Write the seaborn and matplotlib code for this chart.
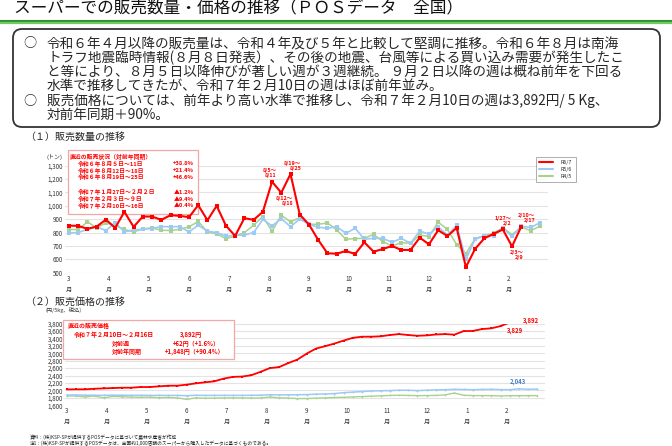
import numpy as np
import pandas as pd
import matplotlib
matplotlib.use('Agg')
import matplotlib.pyplot as plt
import seaborn as sns
from matplotlib.patches import FancyBboxPatch, Rectangle
from matplotlib.lines import Line2D

# ---------------- data ----------------
month_labels = ['3', '4', '5', '6', '7', '8', '9', '10', '11', '12', '1', '2']
series_names = ['R6/7', 'R5/6', 'R4/5']

# (1) weekly sales volume (tons) - R6/7 ends at week of 2/10
qty_r67 = [852, 850, 828, 845, 897, 835, 955, 843, 920, 920,
           895, 930, 925, 915, 1005, 892, 1000, 852, 775, 908,
           895, 955, 1180, 1098, 1238, 935, 860, 745, 645, 642,
           662, 640, 727, 657, 677, 700, 670, 670, 762, 712,
           818, 774, 835, 542, 678, 757, 790, 823, 697, 845]
qty_r56 = [798, 800, 825, 843, 815, 875, 805, 820, 825, 830,
           845, 843, 845, 805, 855, 810, 800, 773, 780, 782,
           800, 898, 850, 904, 844, 902, 862, 840, 832, 845,
           795, 832, 750, 757, 757, 727, 757, 720, 812, 787,
           843, 781, 855, 600, 750, 775, 778, 833, 771, 848,
           838, 872]
qty_r45 = [823, 823, 880, 835, 873, 853, 823, 805, 828, 835,
           818, 815, 825, 843, 883, 805, 790, 755, 773, 800,
           855, 920, 810, 930, 880, 912, 862, 862, 872, 820,
           750, 755, 757, 787, 732, 700, 725, 720, 782, 770,
           878, 823, 710, 642, 755, 778, 795, 837, 785, 841,
           815, 846]
qty_ticks = [500, 600, 700, 800, 900, 1000, 1100, 1200, 1300]

# (2) weekly retail price (yen / 5kg, tax incl.)
price_r67 = [2027, 2030, 2030, 2045, 2055, 2064, 2073, 2073, 2091, 2091,
             2109, 2127, 2127, 2155, 2191, 2218, 2245, 2318, 2364, 2373,
             2409, 2500, 2600, 2627, 2735, 2830, 2990, 3125, 3190, 3260,
             3340, 3415, 3445, 3445, 3455, 3490, 3515, 3490, 3470, 3480,
             3505, 3515, 3500, 3595, 3600, 3650, 3670, 3730, 3829, 3892]
price_r56 = [1875, 1878, 1872, 1870, 1868, 1872, 1870, 1868, 1870, 1866,
             1868, 1865, 1866, 1858, 1870, 1866, 1866, 1867, 1866, 1867,
             1870, 1872, 1885, 1880, 1882, 1885, 1888, 1900, 1905, 1915,
             1940, 1955, 1970, 1985, 1990, 1995, 2005, 2005, 1995, 2005,
             2015, 2020, 2030, 2025, 2020, 2025, 2030, 2022, 2020, 2043,
             2030, 2035]
price_r45 = [1852, 1850, 1825, 1850, 1800, 1840, 1830, 1820, 1815, 1820,
             1805, 1810, 1800, 1760, 1800, 1790, 1795, 1798, 1800, 1800,
             1795, 1795, 1825, 1800, 1795, 1780, 1782, 1792, 1800, 1810,
             1815, 1825, 1835, 1845, 1855, 1865, 1870, 1865, 1860, 1862,
             1865, 1880, 1930, 1870, 1862, 1860, 1860, 1850, 1858, 1858,
             1860, 1860]
price_ticks = [1600, 1800, 2000, 2200, 2400, 2600, 2800, 3000, 3200, 3400, 3600, 3800]

df_qty = pd.DataFrame({'week': np.arange(len(qty_r56)), 'R5/6': qty_r56, 'R4/5': qty_r45})
df_qty['R6/7'] = pd.Series(qty_r67)
df_price = pd.DataFrame({'week': np.arange(len(price_r56)), 'R5/6': price_r56, 'R4/5': price_r45})
df_price['R6/7'] = pd.Series(price_r67)

# ---------------- style ----------------
sns.set_theme(style='white')
plt.rcParams['font.family'] = ['Noto Sans CJK JP', 'DejaVu Sans']

RED = '#ff0000'
BLUE = '#9ccaf4'
GREEN = '#a9d18e'
PINK = '#f2a7a7'

W, H = 672, 446
fig = plt.figure(figsize=(6.72, 4.46), dpi=100)
fig.patch.set_facecolor('white')


def X(px):
    return px / W


def Y(py):
    return 1 - py / H


def add_ax(l, t, r, b):
    return fig.add_axes([X(l), Y(b), (r - l) / W, (b - t) / H])


def ftext(px, py, s, **kw):
    kw.setdefault('va', 'center')
    kw.setdefault('ha', 'left')
    return fig.text(X(px), Y(py), s, **kw)


# ---------------- header ----------------
ftext(14, 9, 'スーパーでの販売数量・価格の推移（ＰＯＳデータ　全国）', fontsize=12.0, color='#111111')
fig.add_artist(Line2D([0, 1], [Y(20.8), Y(20.8)], color='#2f8f3a', lw=1.5))
fig.add_artist(Line2D([0, 1], [Y(23.2), Y(23.2)], color='#72c95e', lw=1.6))

# rounded box (inch coords)
pad = 0.09
bl, br, bt, bb = 13, 660, 29, 127
box = FancyBboxPatch((bl / 100 + pad, (H - bb) / 100 + pad),
                     (br - bl) / 100 - 2 * pad, (bb - bt) / 100 - 2 * pad,
                     boxstyle=f'round,pad={pad},rounding_size={pad}',
                     transform=fig.dpi_scale_trans, facecolor='white',
                     edgecolor='#333333', lw=1.3)
fig.add_artist(box)

lines1 = ['令和６年４月以降の販売量は、令和４年及び５年と比較して堅調に推移。令和６年８月は南海',
          'トラフ地震臨時情報(８月８日発表）、その後の地震、台風等による買い込み需要が発生したこ',
          'と等により、８月５日以降伸びが著しい週が３週継続。 ９月２日以降の週は概ね前年を下回る',
          '水準で推移してきたが、令和７年２月10日の週はほぼ前年並み。']
lines2 = ['販売価格については、前年より高い水準で推移し、令和７年２月10日の週は3,892円/ 5 Kg、',
          '対前年同期＋90%。']
ys1 = [44, 58, 72, 86]
ys2 = [101, 115]
ftext(23, ys1[0], '○', fontsize=9.5)
ftext(23, ys2[0], '○', fontsize=9.5)
for s, yy in zip(lines1, ys1):
    ftext(47, yy, s, fontsize=9.8)
for s, yy in zip(lines2, ys2):
    ftext(47, yy, s, fontsize=9.8)

# ---------------- chart 1 ----------------
ftext(25, 137, '（１）販売数量の推移', fontsize=7.2)
ax1 = add_ax(65, 165.7, 548, 272.7)
xstep = 9.23
ax1.set_xlim(-4 / xstep, (548 - 69) / xstep)
ax1.set_ylim(500, 1300)

sns.lineplot(data=df_qty, x='week', y='R4/5', color=GREEN, marker='s', markersize=2.4,
             markeredgewidth=0, lw=1.1, ax=ax1, zorder=3)
sns.lineplot(data=df_qty, x='week', y='R5/6', color=BLUE, marker='s', markersize=2.4,
             markeredgewidth=0, lw=1.2, ax=ax1, zorder=4)
sns.lineplot(data=df_qty.dropna(), x='week', y='R6/7', color=RED, marker='s', markersize=2.8,
             markeredgewidth=0, lw=1.5, ax=ax1, zorder=5)

month_pos = [k * 52 / 12 for k in range(12)]
ax1.set_xticks(month_pos)
ax1.set_xticklabels([f'{m}\n月' for m in month_labels], fontsize=4.5, linespacing=1.5)
ax1.set_yticks(qty_ticks)
ax1.set_yticklabels([f'{v:,}' for v in qty_ticks], fontsize=4.5)
ax1.set_axisbelow(True)
ax1.yaxis.grid(True, color='#e3e3e3', lw=0.8)
ax1.xaxis.grid(False)
for sp in ax1.spines.values():
    sp.set_visible(False)
ax1.tick_params(axis='both', length=0, pad=1.5, colors='#333333')
ax1.set_xlabel('')
ax1.set_ylabel('')
ftext(46, 157, '(トン)', fontsize=4.3, color='#333333')

# info box 1
r1 = Rectangle((X(67.7), Y(214.3)), X(198.3) - X(67.7), Y(150) - Y(214.3),
               transform=fig.transFigure, facecolor='white', edgecolor=PINK,
               lw=0.9, zorder=2, clip_on=False)
ax1.add_patch(r1)
box1 = [('直近の販売状況（対前年同期）', '', 156.7, 70),
        ('令和６年８月５日～11日', '+38.8%', 163.7, 78),
        ('令和６年８月12日～18日', '+21.4%', 170.7, 78),
        ('令和６年８月19日～25日', '+46.6%', 177.5, 78),
        ('令和７年１月27日～２月２日', '▲1.2%', 192.3, 78),
        ('令和７年２月３日～９日', '▲9.4%', 199, 78),
        ('令和７年２月10日～16日', '▲0.4%', 205.7, 78)]
for lab, pct, yy, xx in box1:
    ax1.text(X(xx), Y(yy), lab, transform=fig.transFigure, fontsize=4.2, color=RED,
             fontweight='bold', va='center', ha='left', zorder=6)
    if pct:
        ax1.text(X(194), Y(yy), pct, transform=fig.transFigure, fontsize=4.2, color=RED,
                 fontweight='bold', va='center', ha='right', zorder=6)

ann_kw = dict(textcoords='offset points', fontsize=3.9, color=RED, fontweight='bold',
              ha='center', multialignment='right', linespacing=1.0, annotation_clip=False)
ax1.annotate('8/5～\n8/11', xy=(22, qty_r67[22]), xytext=(-2, 2.5), va='bottom', **ann_kw)
ax1.annotate('8/19～\n8/25', xy=(24, qty_r67[24]), xytext=(1.5, 2.5), va='bottom', **ann_kw)
ax1.annotate('8/12～\n8/18', xy=(23, qty_r67[23]), xytext=(2.5, -2.5), va='top', **ann_kw)
ax1.annotate('1/27～\n2/2', xy=(47, qty_r67[47]), xytext=(0, 2.5), va='bottom', **ann_kw)
ax1.annotate('2/10～\n2/17', xy=(49, qty_r67[49]), xytext=(4, 2.5), va='bottom', **ann_kw)
ax1.annotate('2/3～\n2/9', xy=(48, qty_r67[48]), xytext=(3, -2.5), va='top', **ann_kw)

handles = [Line2D([], [], color=RED, lw=1.5),
           Line2D([], [], color=BLUE, lw=1.5),
           Line2D([], [], color=GREEN, lw=1.5)]
leg = fig.legend(handles, series_names, loc='upper left', bbox_to_anchor=(X(533), Y(154)),
                 fontsize=3.8, frameon=True, fancybox=False, edgecolor='#999999',
                 handlelength=2.6, handletextpad=1.6, borderpad=0.6, labelspacing=0.35)
leg.get_frame().set_linewidth(0.7)

# ---------------- chart 2 ----------------
ftext(25, 301.5, '（２）販売価格の推移', fontsize=7.2)
ftext(45, 310.5, '(円/5kg、税込)', fontsize=3.9, color='#333333')
ax2 = add_ax(65, 323.5, 545, 405.3)
ax2.set_xlim(-1.7 / xstep, (545 - 66.7) / xstep)
ax2.set_ylim(1600, 3800)

sns.lineplot(data=df_price, x='week', y='R4/5', color=GREEN, marker='o', markersize=1.2,
             markeredgewidth=0, lw=1.0, ax=ax2, zorder=3)
sns.lineplot(data=df_price, x='week', y='R5/6', color=BLUE, marker='o', markersize=1.4,
             markeredgewidth=0, lw=1.1, ax=ax2, zorder=4)
sns.lineplot(data=df_price.dropna(), x='week', y='R6/7', color=RED, marker='s', markersize=1.9,
             markeredgewidth=0, lw=1.3, ax=ax2, zorder=5)
ax2.set_xticks(month_pos)
ax2.set_xticklabels([f'{m}\n月' for m in month_labels], fontsize=4.5, linespacing=1.5)
ax2.set_yticks(price_ticks)
ax2.set_yticklabels([f'{v:,}' for v in price_ticks], fontsize=4.5)
ax2.set_axisbelow(True)
ax2.yaxis.grid(True, color='#e3e3e3', lw=0.8)
ax2.xaxis.grid(False)
for sp in ax2.spines.values():
    sp.set_visible(False)
ax2.tick_params(axis='both', length=0, pad=1.5, colors='#333333')
ax2.set_xlabel('')
ax2.set_ylabel('')

r2 = Rectangle((X(62.7), Y(359)), X(234) - X(62.7), Y(320) - Y(359),
               transform=fig.transFigure, facecolor='white', edgecolor=PINK,
               lw=0.9, zorder=2, clip_on=False)
ax2.add_patch(r2)
tkw = dict(transform=fig.transFigure, fontsize=4.3, color=RED, fontweight='bold',
           va='center', zorder=6)
ax2.text(X(68), Y(325.7), '直近の販売価格', ha='left', **tkw)
ax2.text(X(73.5), Y(334.7), '令和７年２月10日～２月16日', ha='left', **tkw)
ax2.text(X(180), Y(334.7), '3,892円', ha='left', **tkw)
ax2.text(X(111.5), Y(343.3), '対前週', ha='left', **tkw)
ax2.text(X(220), Y(343.3), '+62円（+1.6%）', ha='right', **tkw)
ax2.text(X(111.5), Y(351.7), '対前年同期', ha='left', **tkw)
ax2.text(X(224), Y(351.7), '+1,848円（+90.4%）', ha='right', **tkw)

lab_kw = dict(textcoords='offset points', fontsize=4.3, fontweight='bold', annotation_clip=False)
ax2.annotate(f'{price_r67[49]:,}', xy=(49, price_r67[49]), xytext=(3, 0), ha='left', va='center',
             color=RED, **lab_kw)
ax2.annotate(f'{price_r67[48]:,}', xy=(48, price_r67[48]), xytext=(4, -3), ha='center', va='top',
             color=RED, **lab_kw)
ax2.annotate(f'{price_r56[49]:,}', xy=(49, price_r56[49]), xytext=(-1, 2.5), ha='center', va='bottom',
             color='#4a7fc1', **lab_kw)

# ---------------- footnotes ----------------
ftext(30, 437.5, '資料：(株)KSP-SPが提供するPOSデータに基づいて農林水産省が作成', fontsize=3.4, color='#222222')
ftext(30, 442.8, '注1：(株)KSP-SPが提供するPOSデータは、全国約1,000店舗のスーパーから購入したデータに基づくものである。',
      fontsize=3.4, color='#222222')

fig.savefig('out.png', dpi=100, facecolor='white')
